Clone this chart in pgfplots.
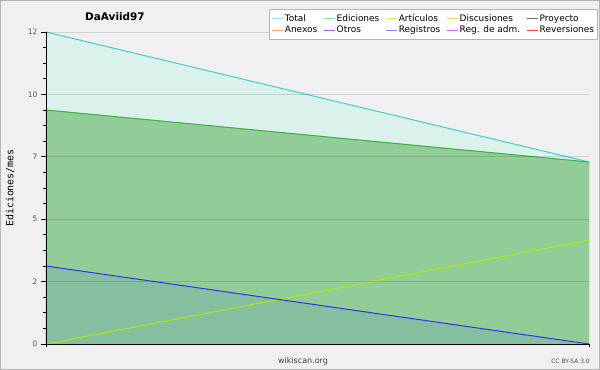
\documentclass[border=0pt]{standalone}
\usepackage{fontspec}
\setmainfont{DejaVu Sans}
\newfontfamily\monofont{DejaVu Sans Mono}
\usepackage{pgfplots}
\pgfplotsset{compat=1.18}
\definecolor{bgc}{HTML}{F0F0F0}
\definecolor{framec}{HTML}{B4B4B4}
\definecolor{tickc}{HTML}{555555}
\definecolor{totc}{HTML}{3CD2C8}
\definecolor{edc}{HTML}{3CB43C}
\definecolor{artc}{HTML}{AAEE00}
\definecolor{disc}{HTML}{FFCC00}
\definecolor{proc}{HTML}{555555}
\definecolor{anec}{HTML}{FF7F2A}
\definecolor{otrc}{HTML}{9933EE}
\definecolor{regc}{HTML}{3333EE}
\definecolor{admc}{HTML}{CC33EE}
\definecolor{revc}{HTML}{FF2222}
\definecolor{totfill}{HTML}{DAF1EC}
\definecolor{edfill}{HTML}{92CC98}
\definecolor{regfill}{HTML}{85BFA0}
\begin{document}
\begin{tikzpicture}
\fill[bgc] (-46bp,-26bp) rectangle (554bp,344bp);
\draw[framec, line width=1.5bp] (-45.25bp,-25.25bp) rectangle (553.25bp,343.25bp);
\begin{axis}[
  scale only axis, width=543bp, height=312bp,
  xmin=0, xmax=1, ymin=0, ymax=12,
  axis x line*=bottom, axis y line*=left,
  axis line style={black, line width=0.8bp},
  xtick={0,1}, xticklabels={},
  ytick={0,2.4,4.8,7.2,9.6,12}, yticklabels={0,2,5,7,10,12},
  minor y tick num=3,
  tick align=outside,
  major tick length=5bp, minor tick length=3bp,
  x tick style={/pgfplots/major tick length=3bp},
  tick style={black, line width=0.8bp},
  ymajorgrids, major grid style={black, opacity=0.12, line width=0.8bp},
  axis on top,
  ticklabel style={font=\fontsize{7.5}{8}\selectfont, text=tickc},
  every axis title shift=0pt,
  title={DaAviid97},
  title style={at={(axis description cs:0.127,1.048)}, anchor=center, font=\bfseries\fontsize{10.5}{12}\selectfont},
  ylabel={Ediciones/mes},
  ylabel style={at={(axis description cs:-0.0663,0.5)}, anchor=center, font=\monofont\fontsize{10}{12}\selectfont},
  legend columns=5,
  legend cell align=left,
  legend image code/.code={\draw[#1] (0bp,0bp) -- (11bp,0bp);},
  legend style={at={(1,1)}, anchor=north east, xshift=9bp, yshift=23bp,
    font=\fontsize{9}{10}\selectfont, draw=framec, fill=white, line width=0.8bp,
    inner xsep=2bp, inner ysep=3.5bp, row sep=0bp,
    nodes={inner xsep=1.5bp, inner ysep=1.5bp},
    /tikz/every even column/.append style={column sep=4.5bp}},
]
\addlegendimage{draw=totc!50!white, line width=1bp}\addlegendentry{Total}
\addlegendimage{draw=edc!55!white, line width=1bp}\addlegendentry{Ediciones}
\addlegendimage{draw=artc!60!white, line width=1bp}\addlegendentry{Artículos}
\addlegendimage{draw=disc!70!white, line width=1bp}\addlegendentry{Discusiones}
\addlegendimage{draw=proc!85!white, line width=1bp}\addlegendentry{Proyecto}
\addlegendimage{draw=anec!75!white, line width=1bp}\addlegendentry{Anexos}
\addlegendimage{draw=otrc!80!white, line width=1bp}\addlegendentry{Otros}
\addlegendimage{draw=regc!60!white, line width=1bp}\addlegendentry{Registros}
\addlegendimage{draw=admc!75!white, line width=1bp}\addlegendentry{Reg. de adm.}
\addlegendimage{draw=revc!85!white, line width=1bp}\addlegendentry{Reversiones}

\addplot[forget plot, draw=none, fill=totfill] coordinates {(0,12) (1,7)} \closedcycle;
\addplot[forget plot, draw=edc!70, fill=edfill] coordinates {(0,9) (1,7)} \closedcycle;
\addplot[forget plot, draw=none, fill=regfill] coordinates {(0,3) (1,0)} \closedcycle;
\addplot[forget plot, totc, line width=1bp] coordinates {(0,12) (1,7)};
\addplot[forget plot, edc, line width=1bp] coordinates {(0,9) (1,7)};
\addplot[forget plot, artc, line width=1bp] coordinates {(0,0) (1,4)};
\addplot[forget plot, regc, line width=1bp] coordinates {(0,3) (1,0)};
\end{axis}
\node[font=\fontsize{8}{9}\selectfont, text=black!75] at (257bp,-17bp) {wikiscan.org};
\node[anchor=east, inner sep=0pt, font=\fontsize{6}{7}\selectfont, text=black!70] at (544bp,-17bp) {CC BY-SA 3.0};
\pgfresetboundingbox
\path (-46bp,-26bp) rectangle (554bp,344bp);
\end{tikzpicture}
\end{document}
